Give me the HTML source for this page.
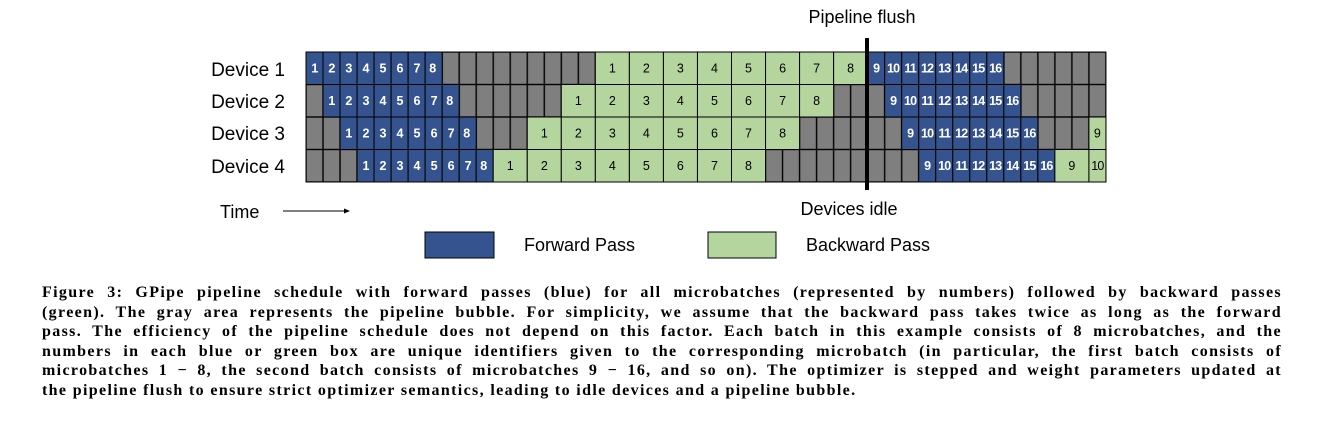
<!DOCTYPE html>
<html><head><meta charset="utf-8"><style>
body{margin:0;width:1320px;height:438px;background:#fff;position:relative;overflow:hidden;font-family:"Liberation Sans",sans-serif}
.cap{position:absolute;left:42px;width:1240px;font-family:"Liberation Serif",serif;font-weight:bold;font-size:16px;letter-spacing:1.35px;line-height:19.6px;color:#000;white-space:nowrap}
.cap div{text-align:justify;text-align-last:justify;white-space:normal}
.cap div.last{text-align-last:left}
</style></head><body>
<svg width="1320" height="280" style="position:absolute;left:0;top:0" font-family="Liberation Sans, sans-serif">
<defs>
<pattern id="gp" x="306" y="52" width="17.02" height="32.5" patternUnits="userSpaceOnUse">
<rect width="17.02" height="32.5" fill="#7f7f7f" stroke="#000" stroke-width="1.4"/>
</pattern>
<rect id="b" width="17.02" height="32.5" fill="#34538f" stroke="#000" stroke-width="1"/>
<rect id="g" width="34.04" height="32.5" fill="#b5d59f" stroke="#000" stroke-width="1"/>
<rect id="g1" width="17.02" height="32.5" fill="#b5d59f" stroke="#000" stroke-width="1"/>
</defs>
<rect x="306" y="52" width="799.94" height="130" fill="url(#gp)" stroke="#000"/>
<g font-size="19" fill="#000">
<text x="285" y="76" text-anchor="end">Device 1</text>
<text x="285" y="108" text-anchor="end">Device 2</text>
<text x="285" y="140" text-anchor="end">Device 3</text>
<text x="285" y="173" text-anchor="end">Device 4</text>
</g>
<g transform="translate(306,52)">
<g><use href="#b" x="0"/><use href="#b" x="17.02"/><use href="#b" x="34.04"/><use href="#b" x="51.06"/><use href="#b" x="68.08"/><use href="#b" x="85.1"/><use href="#b" x="102.12"/><use href="#b" x="119.14"/>
<use href="#g" x="289.34"/><use href="#g" x="323.38"/><use href="#g" x="357.42"/><use href="#g" x="391.46"/><use href="#g" x="425.5"/><use href="#g" x="459.54"/><use href="#g" x="493.58"/><use href="#g" x="527.62"/>
<use href="#b" x="561.66"/><use href="#b" x="578.68"/><use href="#b" x="595.7"/><use href="#b" x="612.72"/><use href="#b" x="629.74"/><use href="#b" x="646.76"/><use href="#b" x="663.78"/><use href="#b" x="680.8"/></g>
<g transform="translate(0,32.5)"><use href="#b" x="17.02"/><use href="#b" x="34.04"/><use href="#b" x="51.06"/><use href="#b" x="68.08"/><use href="#b" x="85.1"/><use href="#b" x="102.12"/><use href="#b" x="119.14"/><use href="#b" x="136.16"/>
<use href="#g" x="255.3"/><use href="#g" x="289.34"/><use href="#g" x="323.38"/><use href="#g" x="357.42"/><use href="#g" x="391.46"/><use href="#g" x="425.5"/><use href="#g" x="459.54"/><use href="#g" x="493.58"/>
<use href="#b" x="578.68"/><use href="#b" x="595.7"/><use href="#b" x="612.72"/><use href="#b" x="629.74"/><use href="#b" x="646.76"/><use href="#b" x="663.78"/><use href="#b" x="680.8"/><use href="#b" x="697.82"/></g>
<g transform="translate(0,65)"><use href="#b" x="34.04"/><use href="#b" x="51.06"/><use href="#b" x="68.08"/><use href="#b" x="85.1"/><use href="#b" x="102.12"/><use href="#b" x="119.14"/><use href="#b" x="136.16"/><use href="#b" x="153.18"/>
<use href="#g" x="221.26"/><use href="#g" x="255.3"/><use href="#g" x="289.34"/><use href="#g" x="323.38"/><use href="#g" x="357.42"/><use href="#g" x="391.46"/><use href="#g" x="425.5"/><use href="#g" x="459.54"/>
<use href="#b" x="595.7"/><use href="#b" x="612.72"/><use href="#b" x="629.74"/><use href="#b" x="646.76"/><use href="#b" x="663.78"/><use href="#b" x="680.8"/><use href="#b" x="697.82"/><use href="#b" x="714.84"/>
<use href="#g1" x="782.92"/></g>
<g transform="translate(0,97.5)"><use href="#b" x="51.06"/><use href="#b" x="68.08"/><use href="#b" x="85.1"/><use href="#b" x="102.12"/><use href="#b" x="119.14"/><use href="#b" x="136.16"/><use href="#b" x="153.18"/><use href="#b" x="170.2"/>
<use href="#g" x="187.22"/><use href="#g" x="221.26"/><use href="#g" x="255.3"/><use href="#g" x="289.34"/><use href="#g" x="323.38"/><use href="#g" x="357.42"/><use href="#g" x="391.46"/><use href="#g" x="425.5"/>
<use href="#b" x="612.72"/><use href="#b" x="629.74"/><use href="#b" x="646.76"/><use href="#b" x="663.78"/><use href="#b" x="680.8"/><use href="#b" x="697.82"/><use href="#b" x="714.84"/><use href="#b" x="731.86"/>
<use href="#g" x="748.88"/><use href="#g1" x="782.92"/></g>

<g font-size="12.5" font-weight="bold" fill="#fff" text-anchor="middle" letter-spacing="-0.8">
<text y="20.5"><tspan x="8.5">1</tspan><tspan x="25.5">2</tspan><tspan x="42.5">3</tspan><tspan x="59.6">4</tspan><tspan x="76.6">5</tspan><tspan x="93.6">6</tspan><tspan x="110.6">7</tspan><tspan x="127.7">8</tspan>
<tspan x="570.2">9</tspan><tspan x="587.2">10</tspan><tspan x="604.2">11</tspan><tspan x="621.2">12</tspan><tspan x="638.3">13</tspan><tspan x="655.3">14</tspan><tspan x="672.3">15</tspan><tspan x="689.3">16</tspan></text>
<text y="53"><tspan x="25.5">1</tspan><tspan x="42.5">2</tspan><tspan x="59.6">3</tspan><tspan x="76.6">4</tspan><tspan x="93.6">5</tspan><tspan x="110.6">6</tspan><tspan x="127.7">7</tspan><tspan x="144.7">8</tspan>
<tspan x="587.2">9</tspan><tspan x="604.2">10</tspan><tspan x="621.2">11</tspan><tspan x="638.3">12</tspan><tspan x="655.3">13</tspan><tspan x="672.3">14</tspan><tspan x="689.3">15</tspan><tspan x="706.3">16</tspan></text>
<text y="85.5"><tspan x="42.5">1</tspan><tspan x="59.6">2</tspan><tspan x="76.6">3</tspan><tspan x="93.6">4</tspan><tspan x="110.6">5</tspan><tspan x="127.7">6</tspan><tspan x="144.7">7</tspan><tspan x="161.7">8</tspan>
<tspan x="604.2">9</tspan><tspan x="621.2">10</tspan><tspan x="638.3">11</tspan><tspan x="655.3">12</tspan><tspan x="672.3">13</tspan><tspan x="689.3">14</tspan><tspan x="706.3">15</tspan><tspan x="723.4">16</tspan></text>
<text y="118"><tspan x="59.6">1</tspan><tspan x="76.6">2</tspan><tspan x="93.6">3</tspan><tspan x="110.6">4</tspan><tspan x="127.7">5</tspan><tspan x="144.7">6</tspan><tspan x="161.7">7</tspan><tspan x="178.7">8</tspan>
<tspan x="621.2">9</tspan><tspan x="638.3">10</tspan><tspan x="655.3">11</tspan><tspan x="672.3">12</tspan><tspan x="689.3">13</tspan><tspan x="706.3">14</tspan><tspan x="723.4">15</tspan><tspan x="740.4">16</tspan></text>
</g>
<g font-size="12.5" fill="#000" text-anchor="middle">
<text y="20.5"><tspan x="306.4">1</tspan><tspan x="340.4">2</tspan><tspan x="374.4">3</tspan><tspan x="408.5">4</tspan><tspan x="442.5">5</tspan><tspan x="476.6">6</tspan><tspan x="510.6">7</tspan><tspan x="544.6">8</tspan></text>
<text y="53"><tspan x="272.3">1</tspan><tspan x="306.4">2</tspan><tspan x="340.4">3</tspan><tspan x="374.4">4</tspan><tspan x="408.5">5</tspan><tspan x="442.5">6</tspan><tspan x="476.6">7</tspan><tspan x="510.6">8</tspan></text>
<text y="85.5"><tspan x="238.3">1</tspan><tspan x="272.3">2</tspan><tspan x="306.4">3</tspan><tspan x="340.4">4</tspan><tspan x="374.4">5</tspan><tspan x="408.5">6</tspan><tspan x="442.5">7</tspan><tspan x="476.6">8</tspan><tspan x="791.4">9</tspan></text>
<text y="118"><tspan x="204.2">1</tspan><tspan x="238.3">2</tspan><tspan x="272.3">3</tspan><tspan x="306.4">4</tspan><tspan x="340.4">5</tspan><tspan x="374.4">6</tspan><tspan x="408.5">7</tspan><tspan x="442.5">8</tspan><tspan x="765.9">9</tspan><tspan x="791.4" letter-spacing="-0.8">10</tspan></text>
</g>
</g>
<rect x="865" y="38" width="4" height="152" fill="#000"/>
<text x="862" y="23" font-size="18" text-anchor="middle">Pipeline flush</text>
<text x="849" y="215" font-size="18" text-anchor="middle">Devices idle</text>
<text x="220" y="218" font-size="18">Time</text>
<line x1="283" y1="211" x2="346" y2="211" stroke="#000" stroke-width="1"/>
<path d="M350 211 L344 208.5 L344 213.5 Z" fill="#000"/>
<rect x="425" y="232" width="69" height="26" fill="#34538f" stroke="#000"/>
<text x="524" y="251" font-size="18">Forward Pass</text>
<rect x="708" y="232" width="68" height="26" fill="#b5d59f" stroke="#000"/>
<text x="806" y="251" font-size="18">Backward Pass</text>
</svg>
<div class="cap" style="top:283px">
<div>Figure 3: GPipe pipeline schedule with forward passes (blue) for all microbatches (represented by numbers) followed by backward passes</div>
<div>(green). The gray area represents the pipeline bubble. For simplicity, we assume that the backward pass takes twice as long as the forward</div>
<div>pass. The efficiency of the pipeline schedule does not depend on this factor. Each batch in this example consists of 8 microbatches, and the</div>
<div>numbers in each blue or green box are unique identifiers given to the corresponding microbatch (in particular, the first batch consists of</div>
<div>microbatches 1 − 8, the second batch consists of microbatches 9 − 16, and so on). The optimizer is stepped and weight parameters updated at</div>
<div class="last">the pipeline flush to ensure strict optimizer semantics, leading to idle devices and a pipeline bubble.</div>
</div>
</body></html>
